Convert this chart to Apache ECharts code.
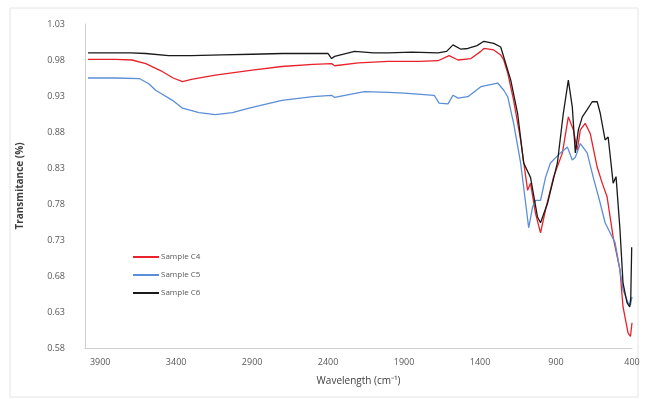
<!DOCTYPE html>
<html>
<head>
<meta charset="utf-8">
<script src="https://cdn.jsdelivr.net/npm/echarts@6/dist/echarts.min.js"></script>
<style>
  html, body { margin: 0; padding: 0; background: #fff; }
  #chart { width: 646px; height: 399px; }
</style>
</head>
<body>
<div id="chart"></div>
<script>
// FTIR spectra, wavenumber (cm-1) vs transmitance
const seriesNames = ['Sample C4', 'Sample C5', 'Sample C6']
const seriesColors = ['#e8212a', '#5b8ed6', '#1a1a1a']

const c4Wave = [3980, 3800, 3690, 3600, 3500, 3420, 3358, 3300, 3142, 2900, 2704, 2500, 2377, 2357, 2200, 2003, 1800, 1676, 1604, 1545, 1460, 1395, 1375, 1310, 1264, 1244, 1218, 1179, 1133, 1087, 1068, 1035, 1002, 969, 917, 858, 819, 786, 760, 740, 708, 675, 629, 596, 564, 524, 479, 459, 426, 410, 400]
const c4Vals = [0.981, 0.981, 0.980, 0.975, 0.965, 0.955, 0.950, 0.953, 0.959, 0.966, 0.971, 0.974, 0.975, 0.972, 0.976, 0.978, 0.978, 0.979, 0.986, 0.980, 0.982, 0.992, 0.996, 0.994, 0.987, 0.980, 0.962, 0.924, 0.869, 0.799, 0.809, 0.767, 0.740, 0.772, 0.817, 0.851, 0.901, 0.883, 0.855, 0.883, 0.892, 0.878, 0.831, 0.809, 0.790, 0.734, 0.688, 0.637, 0.601, 0.596, 0.615]

const c5Wave = [3980, 3800, 3640, 3580, 3535, 3424, 3358, 3250, 3142, 3030, 2920, 2704, 2500, 2377, 2357, 2161, 2000, 1899, 1702, 1670, 1611, 1578, 1545, 1480, 1395, 1284, 1244, 1218, 1179, 1133, 1100, 1080, 1054, 1035, 1002, 969, 937, 871, 825, 793, 773, 740, 695, 655, 609, 577, 544, 511, 479, 459, 426, 410, 400]
const c5Vals = [0.955, 0.955, 0.954, 0.947, 0.938, 0.924, 0.913, 0.907, 0.904, 0.907, 0.913, 0.924, 0.929, 0.931, 0.928, 0.936, 0.935, 0.934, 0.931, 0.920, 0.919, 0.931, 0.927, 0.929, 0.943, 0.948, 0.938, 0.929, 0.892, 0.837, 0.781, 0.747, 0.776, 0.785, 0.785, 0.817, 0.837, 0.851, 0.859, 0.841, 0.845, 0.864, 0.851, 0.817, 0.781, 0.754, 0.740, 0.726, 0.688, 0.661, 0.643, 0.640, 0.651]

const c6Wave = [3980, 3700, 3600, 3450, 3300, 3100, 2900, 2700, 2400, 2377, 2357, 2226, 2100, 2003, 1850, 1676, 1620, 1578, 1526, 1480, 1420, 1375, 1310, 1264, 1198, 1153, 1113, 1068, 1022, 1002, 956, 891, 852, 819, 793, 773, 753, 727, 695, 662, 629, 609, 577, 557, 524, 505, 479, 459, 433, 415, 408, 402]
const c6Vals = [0.990, 0.990, 0.989, 0.986, 0.986, 0.987, 0.988, 0.989, 0.989, 0.982, 0.985, 0.992, 0.990, 0.990, 0.991, 0.990, 0.992, 1.001, 0.995, 0.996, 1.000, 1.006, 1.003, 0.998, 0.952, 0.906, 0.837, 0.817, 0.762, 0.754, 0.781, 0.837, 0.906, 0.952, 0.915, 0.851, 0.883, 0.901, 0.911, 0.922, 0.922, 0.906, 0.869, 0.873, 0.809, 0.818, 0.744, 0.670, 0.643, 0.637, 0.650, 0.720]

const xTickLabels = ['400', '900', '1400', '1900', '2400', '2900', '3400', '3900']
const yTickLabels = ['0.58', '0.63', '0.68', '0.73', '0.78', '0.83', '0.88', '0.93', '0.98', '1.03']

const pair = (xs, ys) => xs.map((x, i) => [x, ys[i]])
const waves = [c4Wave, c5Wave, c6Wave]
const vals = [c4Vals, c5Vals, c6Vals]

const chart = echarts.init(document.getElementById('chart'))

const labelFont = { color: '#595959', fontSize: 9, fontFamily: 'Open Sans' }

const option = {
  animation: false,
  backgroundColor: '#fff',
  graphic: [
    {
      type: 'rect',
      shape: { x: 10, y: 8, width: 628, height: 389 },
      style: { fill: 'none', stroke: '#e4e4e4', lineWidth: 1 },
      silent: true
    }
  ],
  grid: { left: 85, right: 14, top: 24, bottom: 51 },
  legend: {
    orient: 'vertical',
    left: 128,
    top: 248,
    itemGap: 10,
    itemWidth: 26,
    itemHeight: 2,
    icon: 'rect',
    data: seriesNames,
    textStyle: { color: '#595959', fontSize: 8, fontFamily: 'Open Sans', padding: [0, 0, 0, -3] }
  },
  xAxis: {
    type: 'value',
    min: 400,
    max: 4000,
    interval: 500,
    inverse: true,
    name: 'Wavelength (cm⁻¹)',
    nameLocation: 'middle',
    nameGap: 28,
    nameTextStyle: { color: '#404040', fontSize: 10, fontFamily: 'Open Sans' },
    axisLine: { lineStyle: { color: '#d0d0d0' } },
    axisTick: { show: false },
    splitLine: { show: false },
    axisLabel: Object.assign({
      showMaxLabel: false,
      margin: 10,
      formatter: v => xTickLabels.includes(String(Math.round(v))) ? String(Math.round(v)) : ''
    }, labelFont)
  },
  yAxis: {
    type: 'value',
    min: 0.58,
    max: 1.03,
    interval: 0.05,
    name: 'Transmitance (%)',
    nameLocation: 'middle',
    nameGap: 60,
    nameTextStyle: { color: '#404040', fontSize: 10, fontWeight: 'bold', fontFamily: 'Open Sans' },
    axisLine: { show: true, lineStyle: { color: '#d0d0d0' } },
    axisTick: { show: false },
    splitLine: { show: false },
    axisLabel: Object.assign({
      margin: 20,
      formatter: v => {
        const s = v.toFixed(2)
        return yTickLabels.includes(s) ? s : ''
      }
    }, labelFont)
  },
  series: seriesNames.map((name, i) => ({
    name: name,
    type: 'line',
    data: pair(waves[i], vals[i]),
    showSymbol: false,
    lineStyle: { width: 1.3, color: seriesColors[i] },
    itemStyle: { color: seriesColors[i] }
  }))
}

chart.setOption(option)
</script>
</body>
</html>
